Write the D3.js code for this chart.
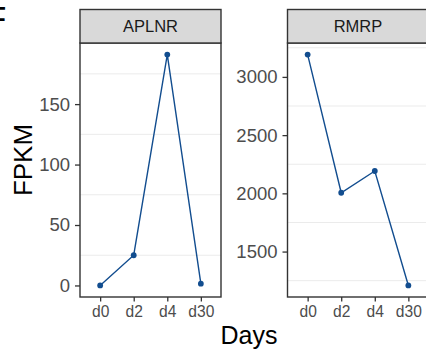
<!DOCTYPE html>
<html>
<head>
<meta charset="utf-8">
<script src="https://cdn.jsdelivr.net/npm/d3@7"></script>
<style>
  html, body { margin: 0; padding: 0; background: #ffffff; }
  svg { display: block; font-family: "Liberation Sans", Arial, Helvetica, sans-serif; }
</style>
</head>
<body>
<svg id="chart" width="426" height="351"></svg>
<script>
// Expression over time for two genes, one facet per gene (free y scales)
const days = ["d0", "d2", "d4", "d30"];
const genes = ["APLNR", "RMRP"];
const aplnrFpkm = [0, 25, 191, 1.5];
const rmrpFpkm = [3192, 2005, 2192, 1209];
const aplnrTicks = [0, 50, 100, 150];
const rmrpTicks = [1500, 2000, 2500, 3000];

const facets = [
  { gene: genes[0], values: aplnrFpkm, ticks: aplnrTicks, x0: 80, step: 50 },
  { gene: genes[1], values: rmrpFpkm, ticks: rmrpTicks, x0: 287.5, step: 500 }
];

const svg = d3.select("#chart");
const panelW = 141;
const stripTop = 9.5, stripBottom = 43, panelBottom = 297;
const lineColor = "#124d8f";
const darkGrey = "#333333";

facets.forEach(f => {
  const x = d3.scalePoint().domain(days).range([f.x0, f.x0 + panelW]).padding(0.6);
  const lo = d3.min(f.values), hi = d3.max(f.values);
  const pad = (hi - lo) * 0.05;
  const y = d3.scaleLinear().domain([lo - pad, hi + pad]).range([panelBottom, stripBottom]);

  const g = svg.append("g");

  // minor grid lines halfway between the labelled breaks
  const [d0, d1] = y.domain();
  const minor = d3.range(f.ticks[0] - f.step / 2, d1, f.step).filter(v => v >= d0 && v <= d1);
  g.selectAll("line.grid").data(minor).join("line")
    .attr("class", "grid")
    .attr("x1", f.x0).attr("x2", f.x0 + panelW)
    .attr("y1", d => y(d)).attr("y2", d => y(d))
    .attr("stroke", "#ebebeb").attr("stroke-width", 1);

  // series line and points
  const pts = days.map((d, i) => [d, f.values[i]]);
  g.append("path")
    .datum(pts)
    .attr("fill", "none")
    .attr("stroke", lineColor)
    .attr("stroke-width", 1.4)
    .attr("d", d3.line().x(d => x(d[0])).y(d => y(d[1])));
  g.selectAll("circle").data(pts).join("circle")
    .attr("cx", d => x(d[0])).attr("cy", d => y(d[1]))
    .attr("r", 2.9).attr("fill", lineColor);

  // panel border
  g.append("rect")
    .attr("x", f.x0).attr("y", stripBottom)
    .attr("width", panelW).attr("height", panelBottom - stripBottom)
    .attr("fill", "none").attr("stroke", darkGrey).attr("stroke-width", 1.4);

  // strip
  g.append("rect")
    .attr("x", f.x0).attr("y", stripTop)
    .attr("width", panelW).attr("height", stripBottom - stripTop)
    .attr("fill", "#d9d9d9").attr("stroke", darkGrey).attr("stroke-width", 1.4);
  g.append("text")
    .attr("x", f.x0 + panelW / 2).attr("y", 32.3)
    .attr("text-anchor", "middle")
    .attr("font-size", 16.5).attr("fill", "#1a1a1a")
    .text(f.gene);

  // y axis
  const ya = g.append("g")
    .attr("transform", `translate(${f.x0},0)`)
    .call(d3.axisLeft(y).tickValues(f.ticks).tickFormat(d3.format("d")).tickSize(5).tickPadding(5));
  ya.select(".domain").remove();
  ya.selectAll(".tick line").attr("stroke", darkGrey).attr("stroke-width", 1.3);
  ya.selectAll(".tick text").attr("font-size", 18.5).attr("fill", "#4d4d4d")
    .attr("font-family", "Liberation Sans, Arial, sans-serif");

  // x axis
  const xa = g.append("g")
    .attr("transform", `translate(0,${panelBottom})`)
    .call(d3.axisBottom(x).tickSize(4.5).tickPadding(4));
  xa.select(".domain").remove();
  xa.selectAll(".tick line").attr("stroke", darkGrey).attr("stroke-width", 1.3);
  xa.selectAll(".tick text").attr("font-size", 15.6).attr("fill", "#4d4d4d")
    .attr("font-family", "Liberation Sans, Arial, sans-serif");
});

// axis titles
svg.append("text")
  .attr("transform", "translate(32.3,160) rotate(-90)")
  .attr("text-anchor", "middle")
  .attr("font-size", 26).attr("fill", "#000")
  .text("FPKM");
svg.append("text")
  .attr("x", 249).attr("y", 344)
  .attr("text-anchor", "middle")
  .attr("font-size", 25).attr("fill", "#000")
  .text("Days");

// figure panel letter, partly outside the left edge
svg.append("text")
  .attr("x", -15).attr("y", 31)
  .attr("font-size", 35).attr("fill", "#000")
  .text("F");
</script>
</body>
</html>
